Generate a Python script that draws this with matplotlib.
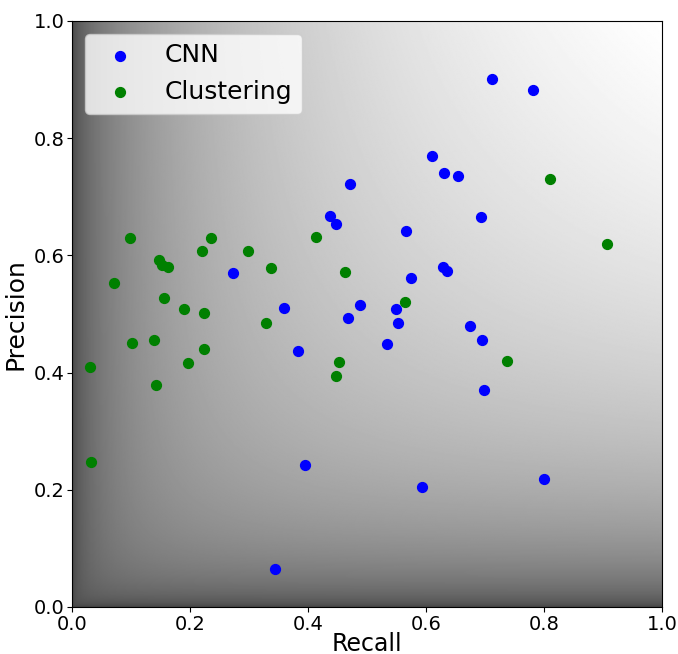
import numpy as np
import matplotlib
matplotlib.use("Agg")
import matplotlib.pyplot as plt

# Detection results: (recall, precision) per image
cnn_recall = [0.712, 0.781, 0.610, 0.631, 0.654, 0.471, 0.437, 0.448, 0.694, 0.566,
              0.273, 0.628, 0.635, 0.574, 0.549, 0.360, 0.488, 0.467, 0.383, 0.395,
              0.344, 0.552, 0.534, 0.674, 0.695, 0.699, 0.593, 0.800]
cnn_precision = [0.901, 0.883, 0.770, 0.740, 0.736, 0.721, 0.667, 0.654, 0.666, 0.641,
                 0.570, 0.580, 0.573, 0.562, 0.508, 0.511, 0.516, 0.494, 0.437, 0.242,
                 0.064, 0.484, 0.449, 0.479, 0.455, 0.370, 0.204, 0.218]

clu_recall = [0.098, 0.235, 0.221, 0.298, 0.413, 0.147, 0.152, 0.163, 0.337, 0.462,
              0.072, 0.156, 0.189, 0.223, 0.329, 0.102, 0.139, 0.223, 0.196, 0.031,
              0.143, 0.452, 0.447, 0.033, 0.737, 0.810, 0.907, 0.564]
clu_precision = [0.629, 0.630, 0.608, 0.607, 0.632, 0.592, 0.583, 0.580, 0.578, 0.571,
                 0.553, 0.528, 0.509, 0.502, 0.484, 0.451, 0.455, 0.440, 0.416, 0.409,
                 0.378, 0.418, 0.395, 0.247, 0.419, 0.730, 0.620, 0.521]

fig = plt.figure(figsize=(6.78, 6.54), dpi=100)
ax = fig.add_axes([72 / 678, 1 - 607 / 654, 590 / 678, 586 / 654])

# F1-score shading behind the points
g = np.linspace(0.0005, 0.9995, 500)
R, P = np.meshgrid(g, g)
f1 = 2 * P * R / (P + R)
shade = 0.25 + 0.75 * np.sqrt(f1)
ax.imshow(shade, cmap="gray", vmin=0, vmax=1, origin="lower",
          extent=[0, 1, 0, 1], aspect="auto", interpolation="bilinear", zorder=0)

ax.scatter(cnn_recall, cnn_precision, s=50, c="b", label="CNN", zorder=3)
ax.scatter(clu_recall, clu_precision, s=50, c="g", label="Clustering", zorder=3)

ax.set_xlim(0, 1)
ax.set_ylim(0, 1)
ax.set_xticks(np.arange(0, 1.01, 0.2))
ax.set_yticks(np.arange(0, 1.01, 0.2))
ax.tick_params(labelsize=14, pad=2)
ax.set_xlabel("Recall", fontsize=17, labelpad=-1)
ax.set_ylabel("Precision", fontsize=18, labelpad=4)
ax.legend(loc="upper left", fontsize=18)

fig.savefig("out.png", dpi=100)
